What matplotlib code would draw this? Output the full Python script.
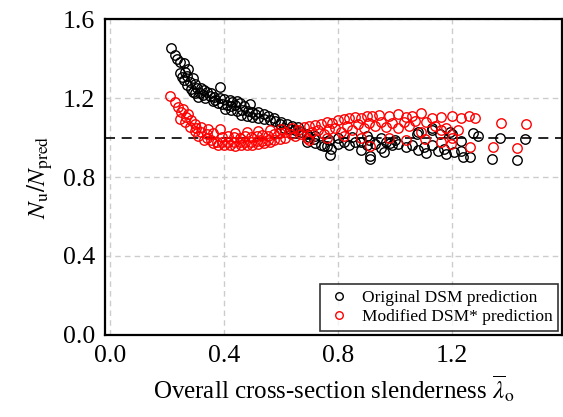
import matplotlib
matplotlib.use("Agg")
import matplotlib.pyplot as plt

plt.rcParams['font.family'] = ['Liberation Serif', 'DejaVu Serif']
plt.rcParams['mathtext.fontset'] = 'stix'

# Original DSM prediction (lambda_o, Nu/Npred)
orig_x = [0.216, 0.228, 0.236, 0.245, 0.259, 0.274, 0.245, 0.262, 0.252, 0.259,
          0.280, 0.292, 0.270, 0.300, 0.285, 0.305, 0.318, 0.330, 0.300, 0.315,
          0.340, 0.386, 0.335, 0.350, 0.365, 0.385, 0.400, 0.420, 0.445, 0.360,
          0.380, 0.395, 0.410, 0.425, 0.440, 0.455, 0.470, 0.490, 0.405, 0.425,
          0.445, 0.465, 0.485, 0.500, 0.520, 0.540, 0.460, 0.480, 0.500, 0.520,
          0.540, 0.560, 0.580, 0.555, 0.575, 0.600, 0.620, 0.640, 0.660, 0.610,
          0.630, 0.650, 0.670, 0.690, 0.700, 0.715, 0.690, 0.720, 0.740, 0.760,
          0.775, 0.770, 0.800, 0.820, 0.840, 0.860, 0.880, 0.880, 0.900, 0.910,
          0.930, 0.950, 0.970, 0.990, 1.010, 1.040, 1.060, 1.080, 1.100, 1.110,
          1.130, 1.150, 1.170, 1.180, 1.205, 1.230, 1.240, 1.080, 1.130, 1.200,
          1.230, 1.274, 1.292, 1.263, 1.340, 1.427, 1.369, 1.456, 0.912, 0.772,
          0.750, 0.720, 0.800, 0.850, 0.950, 1.000, 0.900, 0.960, 0.982, 1.076,
          1.129, 1.158, 1.193, 0.912, 0.325, 0.355, 0.370, 0.430, 0.510, 0.595,
          0.270, 0.290, 0.310]
orig_y = [1.453, 1.420, 1.400, 1.385, 1.380, 1.350, 1.325, 1.330, 1.305, 1.290,
          1.280, 1.300, 1.265, 1.270, 1.245, 1.250, 1.250, 1.240, 1.225, 1.225,
          1.230, 1.255, 1.200, 1.210, 1.205, 1.200, 1.195, 1.190, 1.185, 1.185,
          1.175, 1.170, 1.165, 1.160, 1.165, 1.175, 1.160, 1.170, 1.145, 1.140,
          1.135, 1.140, 1.135, 1.130, 1.130, 1.120, 1.115, 1.110, 1.105, 1.100,
          1.095, 1.090, 1.085, 1.110, 1.100, 1.080, 1.070, 1.060, 1.055, 1.050,
          1.045, 1.040, 1.030, 1.020, 1.005, 0.995, 0.980, 0.970, 0.960, 0.955,
          0.940, 0.990, 0.965, 0.980, 0.960, 0.975, 0.935, 0.975, 0.960, 0.990,
          0.965, 0.945, 0.975, 0.960, 0.965, 0.950, 0.960, 0.935, 0.950, 0.920,
          0.960, 0.930, 0.940, 0.915, 0.925, 0.930, 0.900, 1.030, 1.040, 1.020,
          0.985, 1.025, 1.010, 0.900, 0.890, 0.885, 1.000, 0.995, 0.906, 0.910,
          0.955, 1.010, 1.000, 1.005, 1.000, 0.990, 1.010, 0.925, 0.974, 1.017,
          1.046, 1.017, 1.027, 0.892, 1.215, 1.225, 1.190, 1.180, 1.120, 1.070,
          1.310, 1.230, 1.205]

# Modified DSM* prediction
mod_x = [0.212, 0.228, 0.240, 0.257, 0.274, 0.245, 0.262, 0.285, 0.297, 0.280,
         0.303, 0.320, 0.345, 0.300, 0.320, 0.340, 0.360, 0.386, 0.340, 0.355,
         0.375, 0.395, 0.415, 0.435, 0.455, 0.475, 0.495, 0.515, 0.535, 0.555,
         0.575, 0.595, 0.615, 0.360, 0.380, 0.400, 0.420, 0.440, 0.460, 0.480,
         0.500, 0.520, 0.540, 0.560, 0.395, 0.415, 0.435, 0.455, 0.475, 0.495,
         0.515, 0.535, 0.555, 0.575, 0.595, 0.615, 0.635, 0.440, 0.480, 0.520,
         0.560, 0.600, 0.640, 0.660, 0.680, 0.700, 0.720, 0.740, 0.760, 0.780,
         0.800, 0.820, 0.840, 0.860, 0.880, 0.900, 0.920, 0.945, 0.980, 1.010,
         1.040, 1.060, 1.090, 1.130, 1.160, 1.200, 1.230, 1.260, 1.280, 0.650,
         0.670, 0.690, 0.710, 0.730, 0.750, 0.770, 0.790, 0.810, 0.830, 0.850,
         0.870, 0.890, 0.910, 0.930, 0.950, 0.970, 0.990, 1.010, 1.030, 1.050,
         1.070, 1.090, 1.110, 1.140, 1.160, 1.180, 1.200, 1.220, 0.912, 0.980,
         1.040, 1.105, 1.160, 1.195, 1.263, 1.344, 1.426, 1.371, 1.459, 0.880,
         0.820, 0.760, 0.700, 0.250, 0.268, 0.310, 0.330]
mod_y = [1.210, 1.180, 1.155, 1.145, 1.120, 1.094, 1.080, 1.090, 1.070, 1.055,
         1.050, 1.055, 1.045, 1.035, 1.030, 1.020, 1.025, 1.045, 1.000, 0.990,
         0.980, 0.975, 0.975, 0.975, 0.980, 0.975, 0.980, 0.985, 0.985, 0.990,
         0.990, 0.995, 1.000, 0.970, 0.960, 0.960, 0.960, 0.958, 0.960, 0.962,
         0.960, 0.965, 0.970, 0.975, 1.005, 1.010, 1.005, 1.000, 1.010, 1.005,
         1.010, 1.015, 1.010, 1.020, 1.025, 1.030, 1.020, 1.025, 1.030, 1.035,
         1.040, 1.045, 1.050, 1.040, 1.055, 1.060, 1.065, 1.070, 1.080, 1.075,
         1.090, 1.095, 1.100, 1.105, 1.100, 1.110, 1.110, 1.115, 1.110, 1.120,
         1.105, 1.110, 1.125, 1.100, 1.105, 1.110, 1.100, 1.110, 1.100, 1.010,
         1.020, 1.000, 1.030, 1.040, 1.020, 1.045, 1.050, 1.030, 1.060, 1.040,
         1.070, 1.050, 1.075, 1.060, 1.080, 1.055, 1.075, 1.050, 1.080, 1.060,
         1.085, 1.030, 1.080, 1.060, 1.040, 1.050, 1.000, 1.040, 0.957, 0.996,
         0.990, 0.995, 0.975, 0.965, 0.953, 0.952, 0.945, 1.072, 1.068, 1.000,
         1.010, 1.000, 0.990, 1.130, 1.105, 1.010, 0.990]

fig = plt.figure(figsize=(5.63, 4.17), dpi=100)
ax = fig.add_axes([0.1865, 0.197, 0.8115, 0.757])

ax.plot(orig_x, orig_y, 'o', mfc='none', mec='black', ms=6.8, mew=1.0,
        label='Original DSM prediction', zorder=3)
ax.plot(mod_x, mod_y, 'o', mfc='none', mec='red', ms=6.8, mew=1.0,
        label='Modified DSM* prediction', zorder=3)
ax.axhline(1.0, color='black', ls=(0, (6, 4)), lw=1.2, zorder=2)

ax.set_xlim(-0.017, 1.585)
ax.set_ylim(0, 1.6)
ax.set_xticks([0.0, 0.4, 0.8, 1.2])
ax.set_yticks([0.0, 0.4, 0.8, 1.2, 1.6])
ax.set_xticklabels(['0.0', '0.4', '0.8', '1.2'])
ax.set_yticklabels(['0.0', '0.4', '0.8', '1.2', '1.6'])
ax.tick_params(length=0, labelsize=18.5, pad=7)
ax.grid(True, color='#cccccc', ls=(0, (4, 3)), lw=1.0)
ax.set_axisbelow(True)
for s in ax.spines.values():
    s.set_linewidth(1.6)

ax.set_xlabel(r'Overall cross-section slenderness $\overline{\lambda}_{\mathrm{o}}$',
              fontsize=18, labelpad=5)
ax.set_ylabel(r'$N_{\mathrm{u}}/N_{\mathrm{pred}}$', fontsize=18, labelpad=6)

leg = ax.legend(loc='lower right', fontsize=12.5, frameon=True, fancybox=False,
                edgecolor='black', borderaxespad=0.25, handletextpad=0.5,
                handlelength=1.6, markerscale=0.8, borderpad=0.3,
                labelspacing=0.2)
leg.get_frame().set_linewidth(1.2)

fig.savefig('out.png', dpi=100)
